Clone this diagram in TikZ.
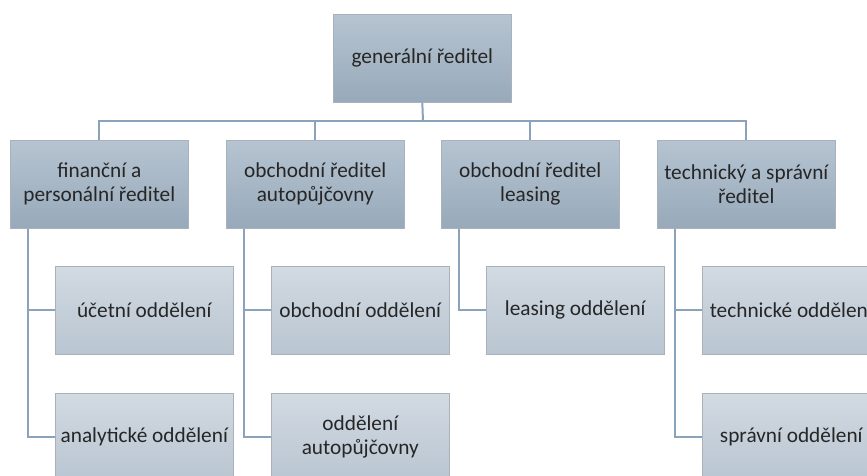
\documentclass[tikz,border=0pt]{standalone}
\usepackage{fontspec}
\setmainfont{Carlito}
\usepackage{xcolor}
\usepackage{tikz}
\usetikzlibrary{positioning}
\definecolor{boxtop}{HTML}{B6C4D1}
\definecolor{boxbot}{HTML}{97A9BA}
\definecolor{subtop}{HTML}{D2DAE2}
\definecolor{subbot}{HTML}{B9C5D1}
\definecolor{linkcol}{HTML}{8AA3BA}
\definecolor{edgecol}{HTML}{A9B2BB}

\begin{document}
\begin{tikzpicture}[x=1pt,y=-1pt,
    unit/.style={anchor=north west,minimum width=178pt,minimum height=88pt,
      inner sep=0pt,align=center,draw=edgecol,line width=0.6pt,
      font=\fontsize{21.3}{24}\selectfont,text=black!85},
    head/.style={unit,top color=boxtop,bottom color=boxbot},
    dept/.style={unit,top color=subtop,bottom color=subbot},
    link/.style={draw=linkcol,line width=2pt}]
  \useasboundingbox (0,0) rectangle (867,476);
  \clip (0,0) rectangle (867,476);

  % top
  \node[head] (gen) at (333,14) {generální ředitel};
  \coordinate (bus) at (423,121);

  % directors
  \node[head] (fin)  at (10,140)  {finanční a\\personální ředitel};
  \node[head] (obch) at (226,140) {obchodní ředitel\\autopůjčovny};
  \node[head] (leas) at (441,140) {obchodní ředitel\\leasing};
  \node[head] (tech) at (657,140) {technický a správní\\ředitel};

  % departments
  \node[dept] (ucet)  at (55,266)  {účetní oddělení};
  \node[dept] (anal)  at (55,393)  {analytické oddělení};
  \node[dept] (obod)  at (271,266) {obchodní oddělení};
  \node[dept] (auto)  at (271,393) {oddělení\\autopůjčovny};
  \node[dept] (leod)  at (486,266) {leasing oddělení};
  \node[dept] (tecod) at (702,266) {technické oddělení};
  \node[dept] (sprod) at (702,393) {správní oddělení};

  \draw[link] (gen.south) -- (bus);
  \draw[link] (fin.north) |- (bus) -| (tech.north);
  \foreach \boss in {obch,leas}
    \draw[link] (\boss.north) -- (\boss.north |- bus);

  \foreach \boss/\sub in {fin/ucet,fin/anal,obch/obod,obch/auto,leas/leod,tech/tecod,tech/sprod}
    \draw[link] ([xshift=18pt]\boss.south west) |- (\sub.west);
\end{tikzpicture}
\end{document}
